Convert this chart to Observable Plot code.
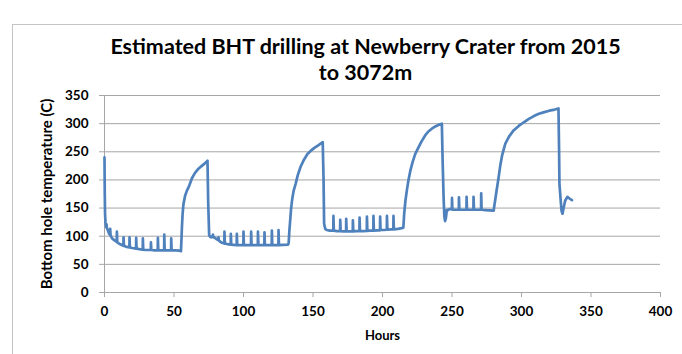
<!DOCTYPE html>
<html>
<head>
<meta charset="utf-8">
<script src="https://cdn.jsdelivr.net/npm/d3@7"></script>
<script src="https://cdn.jsdelivr.net/npm/@observablehq/plot@0.6"></script>
<style>
  html, body { margin: 0; padding: 0; background: #fff; overflow: hidden; }
  #wrap { position: relative; width: 682px; height: 354px; }
  #border { position: absolute; left: 12px; top: 24px; width: 800px; height: 400px;
            border-top: 1px solid #c4c4c4; border-left: 1px solid #c4c4c4; }
  #chart { position: absolute; left: 0; top: 0; }
</style>
</head>
<body>
<div id="wrap"><div id="border"></div><div id="chart"></div></div>
<script>
const titleLines = ["Estimated BHT drilling at Newberry Crater from 2015", "to 3072m"];
const xLabel = "Hours";
const yLabel = "Bottom hole temperature (C)";
const xTicks = [0, 50, 100, 150, 200, 250, 300, 350, 400];
const yTicks = [0, 50, 100, 150, 200, 250, 300, 350];

// [hour, temperature °C], phase by phase
const phase1 = [[0,240],[0.2,175],[0.4,140],[0.7,125],[1,118],[1.3,116],[1.5,121],[1.7,115],[2.5,110],[3.2,105],[4,102],[4.1,113],[4.4,101],[5.5,96],[7,93],[8.8,90],[8.9,108],[9.2,89],[11,86],[13.6,83],[13.7,98],[14,83],[16,81],[17.9,80],[18,98],[18.3,80],[20,79],[22.7,78],[22.8,97],[23.1,78],[25,77],[27.5,76],[27.6,96],[27.9,76],[30,75.5],[33.3,75.5],[33.4,89],[33.7,75.5],[36,75],[38.3,75],[38.4,97],[38.7,75],[41,75],[42.9,75],[43,103],[43.3,75],[46,75],[47.9,75],[48,96],[48.3,75],[51,75],[54,74.5],[55,73.5]];
const phase2 = [[55.3,90],[55.7,116],[56.2,140],[56.8,157],[58,172],[59.3,181],[61,190],[62.9,203],[65,212],[67.6,220],[70,225],[72,229],[74.1,234]];
const phase3 = [[74.6,160],[75.3,102],[76,99],[76.8,98],[77.5,100],[77.9,99],[78,103],[78.3,98],[79.5,97],[80.5,95],[81.9,93],[82,98],[82.3,92],[84,89],[86.2,87],[86.3,108],[86.6,87],[88.5,86],[90.8,85],[90.9,104],[91.2,85],[93,84.5],[95.1,84],[95.2,104],[95.5,84],[98,84],[99.9,84],[100,108],[100.3,84],[103,84],[105.4,84],[105.5,108],[105.8,84],[108,84],[110.3,84],[110.4,108],[110.7,84],[113,84],[115,84],[115.1,107],[115.4,84],[118,84],[120.3,84],[120.4,110],[120.7,84],[123,84],[125.1,84],[125.2,111],[125.5,84],[128,84.5],[132,85]];
const phase4 = [[132.5,88],[133,110],[133.5,125],[134.2,148],[135,165],[136,180],[137.5,193],[139,208],[141,223],[143.5,236],[146,246],[148.5,252],[151,257],[154,262],[157,267]];
const phase5 = [[157.6,200],[158,122],[158.8,113],[160,111],[162,110],[164.6,110],[164.7,136],[165,110],[167,109],[169.5,109],[169.6,129],[169.9,109],[172,108.5],[173.8,108.5],[173.9,131],[174.2,108.5],[176,108.5],[178.6,108.5],[178.7,128],[179,108.5],[181,109],[183.4,109],[183.5,133],[183.8,109],[186,109],[188.7,109.5],[188.8,135],[189.1,109.5],[191,110],[193.4,110],[193.5,136],[193.8,110],[196,110.5],[198.2,110.5],[198.3,135],[198.6,111],[201,111],[203.1,111.5],[203.2,136],[203.5,111.5],[206,112],[207.8,112],[207.9,136],[208.2,112],[211,113],[214,114.5],[215,115]];
const phase6 = [[215.6,140],[216.5,163],[217.5,181],[218.7,200],[220,216],[221.7,232],[223.5,246],[225.9,258],[228,268],[230.7,279],[233,286],[235.5,291],[238,295],[240.5,298],[242.7,300]];
const phase7 = [[243.3,230],[244,165],[244.5,135],[245,127],[245.6,132],[246.3,147],[247,146],[248,148],[249.9,148],[250,168],[250.3,147],[252.5,147],[254.9,147],[255,169],[255.3,147],[257.5,147],[260.4,147],[260.5,170],[260.8,147],[263,147],[265.4,147],[265.5,170],[265.8,147],[268,147],[270.9,147],[271,176],[271.3,147],[274,146.5],[277,146],[280,145.5]];
const phase8 = [[280.5,155],[281,163],[282,180],[283.5,204],[284.7,225],[286,243],[288.3,264],[291,277],[294.3,288],[298,296],[301.4,302],[305,308],[308.6,313],[312,317],[315.8,320],[320,323],[324,325],[326.6,327]];
const phase9 = [[327,260],[327.3,193],[328,170],[328.8,145],[329.5,140],[330.3,150],[331.4,163],[333,170],[334.5,167],[336.3,164]];

const series = [phase1, phase2, phase3, phase4, phase5, phase6, phase7, phase8, phase9]
  .flat().map(([h, t]) => ({h, t}));

const gray = "#a6a6a6";
const chart = Plot.plot({
  width: 682,
  height: 354,
  marginLeft: 104,
  marginRight: 22,
  marginTop: 95,
  marginBottom: 62,
  x: {domain: [0, 400]},
  y: {domain: [0, 350]},
  style: {fontFamily: "Lato, 'Open Sans', sans-serif", fontWeight: "bold", fontSize: "13px", color: "#000", background: "transparent", overflow: "visible"},
  marks: [
    Plot.gridY(yTicks, {stroke: gray, strokeOpacity: 1, strokeWidth: 1}),
    Plot.ruleX([0], {stroke: gray}),
    Plot.ruleY([0], {stroke: gray}),
    Plot.axisX(xTicks, {tickSize: 5, tickPadding: 9, stroke: gray, fill: "#000", label: null, tickFormat: d => String(d), fontSize: 13.5}),
    Plot.axisY(yTicks, {tickSize: 5, tickPadding: 11, stroke: gray, fill: "#000", label: null, tickFormat: d => String(d), fontSize: 13.5}),
    Plot.line(series, {x: "h", y: "t", stroke: "#4f81bd", strokeWidth: 2.7, strokeLinejoin: "round", strokeLinecap: "round"}),
    Plot.text([xLabel], {frameAnchor: "bottom", dy: 47, fontSize: 13, fontWeight: "bold", fill: "#000"}),
    Plot.text([yLabel], {frameAnchor: "left", textAnchor: "middle", dx: -57, rotate: -90, fontSize: 15, fontWeight: "bold", fill: "#000"}),
    Plot.text([titleLines[0]], {frameAnchor: "top", textAnchor: "middle", dx: -17, dy: -57, fontSize: 21.5, fontWeight: "bold", fill: "#000"}),
    Plot.text([titleLines[1]], {frameAnchor: "top", textAnchor: "middle", dx: -17, dy: -31, fontSize: 21.5, fontWeight: "bold", fill: "#000"})
  ]
});
document.getElementById("chart").appendChild(chart);
</script>
</body>
</html>
